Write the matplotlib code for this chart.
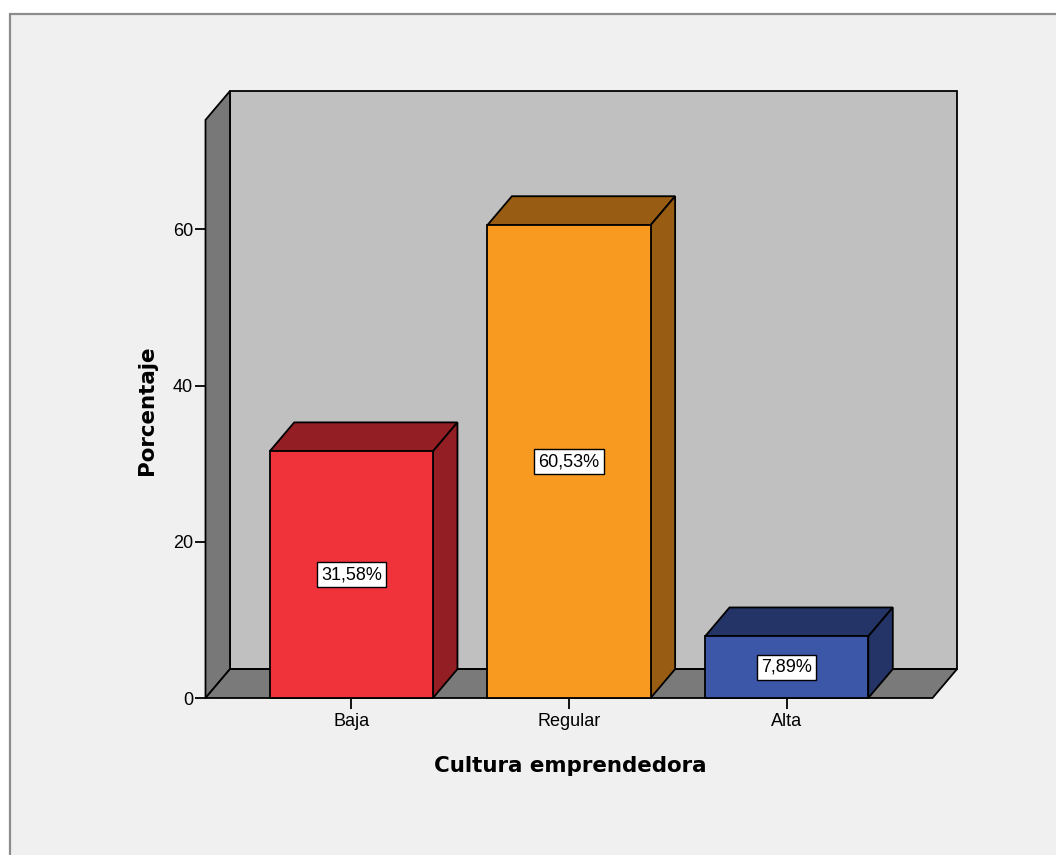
import matplotlib
matplotlib.use("Agg")
import matplotlib.pyplot as plt
from matplotlib.patches import Polygon, Rectangle

# Data
categories = ["Baja", "Regular", "Alta"]
percentages = [31.58, 60.53, 7.89]
value_labels = ["31,58%", "60,53%", "7,89%"]
front_colors = ["#F0323A", "#F89A1F", "#3C56A8"]
shade_colors = ["#931E23", "#985C12", "#243467"]
y_ticks = [0, 20, 40, 60]
x_title = "Cultura emprendedora"
y_title = "Porcentaje"

# Figure and panel frame
W, H, DPI = 1056, 855, 100
fig = plt.figure(figsize=(W / DPI, H / DPI), dpi=DPI, facecolor="white")
fig.patches.append(Rectangle((10 / W, -0.05), 1.1, (H - 14) / H + 0.05,
                             transform=fig.transFigure, facecolor="#F0F0F0",
                             edgecolor="#8C8C8C", linewidth=1.6, zorder=-5))

# 3D box geometry (category units on x, percent on y)
X0, X1 = -0.67, 2.67      # front floor extent
DX, DY = 0.1125, 3.7      # depth offset of the back plane
Y_TOP = 74                # height of the walls
BW = 0.75                 # bar width

left_px, right_px, bottom_px, top_px = 205.5, 957, 698, 91
ax = fig.add_axes([left_px / W, 1 - bottom_px / H,
                   (right_px - left_px) / W, (bottom_px - top_px) / H])
ax.set_xlim(X0, X1 + DX)
ax.set_ylim(0, Y_TOP + DY)
ax.patch.set_visible(False)
for s in ax.spines.values():
    s.set_visible(False)

EDGE = dict(edgecolor="black", linewidth=1.3, clip_on=False, joinstyle="miter")

# back wall
ax.add_patch(Polygon([(X0 + DX, DY), (X1 + DX, DY), (X1 + DX, Y_TOP + DY), (X0 + DX, Y_TOP + DY)],
                     facecolor="#C0C0C0", zorder=1, **EDGE))
# left wall
ax.add_patch(Polygon([(X0, 0), (X0 + DX, DY), (X0 + DX, Y_TOP + DY), (X0, Y_TOP)],
                     facecolor="#787878", zorder=1, **EDGE))
# floor
ax.add_patch(Polygon([(X0, 0), (X1, 0), (X1 + DX, DY), (X0 + DX, DY)],
                     facecolor="#7A7A7A", zorder=1, **EDGE))

# bars: front faces via bar(), top and side faces as polygons
xs = list(range(len(categories)))
ax.bar(xs, percentages, width=BW, color=front_colors, zorder=3,
       edgecolor="black", linewidth=1.3, clip_on=False)
for x, v, dark in zip(xs, percentages, shade_colors):
    xl, xr = x - BW / 2, x + BW / 2
    ax.add_patch(Polygon([(xl, v), (xr, v), (xr + DX, v + DY), (xl + DX, v + DY)],
                         facecolor=dark, zorder=2, **EDGE))
    ax.add_patch(Polygon([(xr, 0), (xr + DX, DY), (xr + DX, v + DY), (xr, v)],
                         facecolor=dark, zorder=2, **EDGE))

# value labels in the middle of each bar
for x, v, lab in zip(xs, percentages, value_labels):
    ax.text(x, v / 2, lab, ha="center", va="center", fontsize=13,
            family="Liberation Sans", zorder=5,
            bbox=dict(boxstyle="square,pad=0.22", facecolor="white",
                      edgecolor="black", linewidth=1.0))

# ticks
ax.set_xticks(xs, categories)
ax.set_yticks(y_ticks)
ax.tick_params(axis="x", direction="out", length=8, width=1.3, pad=3,
               labelsize=13, colors="black")
ax.tick_params(axis="y", direction="out", length=8, width=1.3, pad=1,
               labelsize=13, colors="black")
for lab in ax.get_xticklabels() + ax.get_yticklabels():
    lab.set_family("Liberation Sans")

# axis titles
fig.text(570 / W, 1 - 772 / H, x_title, ha="center", va="baseline",
         fontsize=15.4, fontweight="bold", family="DejaVu Sans")
fig.text(153 / W, 1 - 410 / H, y_title, ha="center", va="baseline",
         rotation=90, rotation_mode="anchor",
         fontsize=15.4, fontweight="bold", family="DejaVu Sans")

fig.savefig("out.png", dpi=DPI, facecolor=fig.get_facecolor())
